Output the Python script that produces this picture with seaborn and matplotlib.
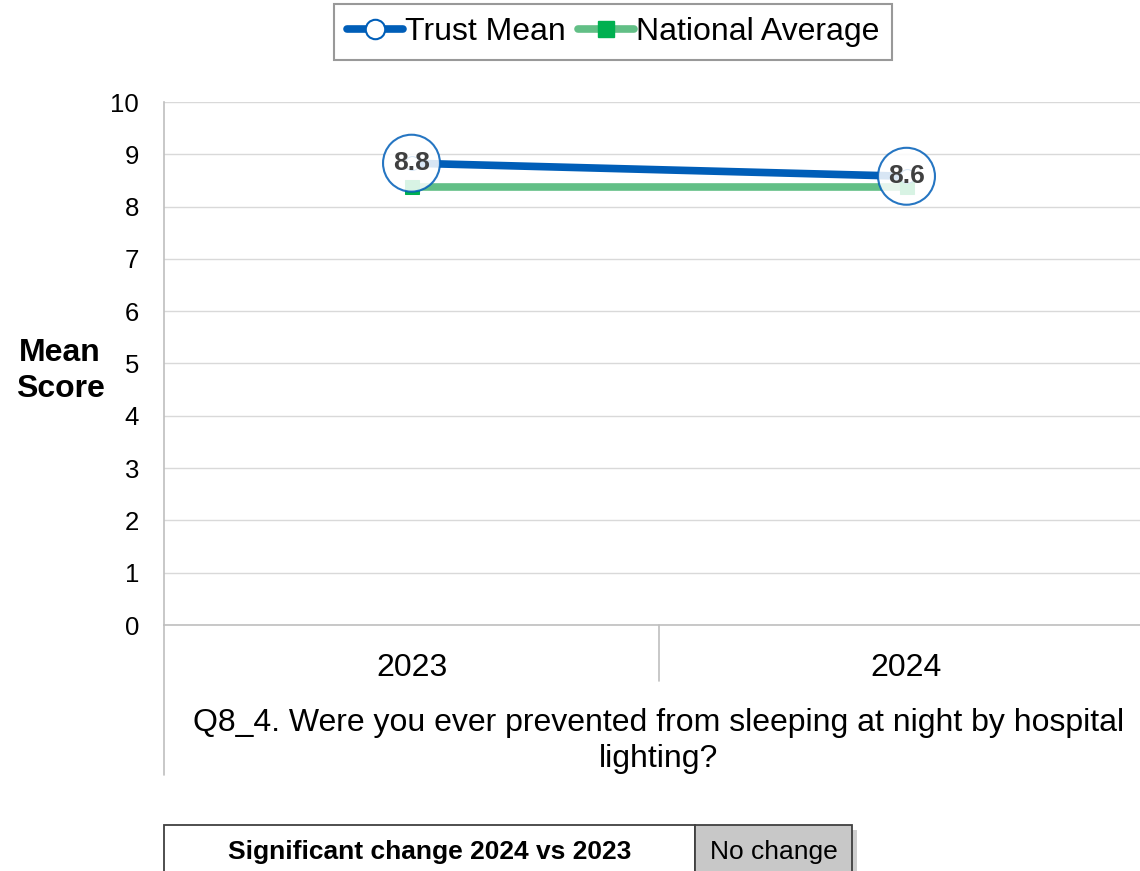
import matplotlib
matplotlib.use("Agg")
import matplotlib.pyplot as plt
import matplotlib.transforms as mtransforms
from matplotlib.lines import Line2D
from matplotlib.patches import Rectangle
import seaborn as sns
import pandas as pd

years = ["2023", "2024"]
trust_mean = [8.83, 8.58]
trust_labels = ["8.8", "8.6"]
national_avg = [8.37, 8.37]
question = "Q8_4. Were you ever prevented from sleeping at night by hospital\nlighting?"
table_label = "Significant change 2024 vs 2023"
table_value = "No change"

sns.set_theme(style="white")
plt.rcParams["font.family"] = ["Liberation Sans", "DejaVu Sans"]
plt.rcParams["text.color"] = "black"
plt.rcParams["axes.labelcolor"] = "black"

BLUE = "#005EB8"
GREEN_LINE = "#62BF86"
GREEN_MARK = "#00B050"

df_trust = pd.DataFrame({"Year": years, "Score": trust_mean})
df_nat = pd.DataFrame({"Year": years, "Score": national_avg})

fig = plt.figure(figsize=(11.4, 8.71), dpi=100)
ax = fig.add_axes([164/1140, (871-625)/871, 990/1140, 523/871])

sns.lineplot(data=df_trust, x="Year", y="Score", ax=ax, color=BLUE, lw=5.5,
             marker="o", markersize=10, markerfacecolor="white",
             markeredgecolor=BLUE, zorder=4, sort=False)
sns.lineplot(data=df_nat, x="Year", y="Score", ax=ax, color=GREEN_LINE, lw=5.5,
             marker="s", markersize=10, markerfacecolor=GREEN_MARK,
             markeredgecolor=GREEN_MARK, zorder=3, sort=False)

for i, (v, lab) in enumerate(zip(trust_mean, trust_labels)):
    ax.text(i, v, lab, ha="center", va="center", fontsize=19, fontweight="bold",
            color="#404040", zorder=6,
            bbox=dict(boxstyle="circle,pad=0.38", fc="white", ec=BLUE, lw=1.5, alpha=0.85))

ax.set_xlim(-0.5, 1.5)
ax.set_ylim(0, 10)
ax.set_yticks(range(0, 11))
ax.yaxis.grid(True, color="#D9D9D9", lw=1)
ax.xaxis.grid(False)
for s in ["top", "right"]:
    ax.spines[s].set_visible(False)
ax.spines["left"].set_color("#BFBFBF")
ax.spines["bottom"].set_color("#BFBFBF")
ax.spines["left"].set_linewidth(1.2)
ax.spines["bottom"].set_linewidth(1.2)
ax.tick_params(axis="y", labelsize=18.5, length=0, pad=18, colors="black")
ax.tick_params(axis="x", labelsize=23, length=0, pad=20, colors="black")
ax.set_xticks([0, 1])
ax.set_xticklabels(years)

# category separators and extended left spine
trans = mtransforms.blended_transform_factory(ax.transData, ax.transAxes)
ax.add_line(Line2D([-0.5, -0.5], [0, -0.287], transform=trans, color="#BFBFBF",
                   lw=1.2, clip_on=False))
ax.add_line(Line2D([0.5, 0.5], [0, -0.107], transform=trans, color="#BFBFBF",
                   lw=1.2, clip_on=False))

ax.set_xlabel(question, fontsize=23, labelpad=18, linespacing=1.28)
ax.set_ylabel("Mean\nScore", fontsize=23, fontweight="bold", rotation=0,
              ha="center", va="center", labelpad=0, linespacing=1.25)
ax.yaxis.set_label_coords(-0.105, 0.485)

handles = [
    Line2D([], [], color=BLUE, lw=5.5, marker="o", markersize=14,
           markerfacecolor="white", markeredgecolor=BLUE, markeredgewidth=1.5),
    Line2D([], [], color=GREEN_LINE, lw=5.5, marker="s", markersize=11,
           markerfacecolor=GREEN_MARK, markeredgecolor=GREEN_MARK),
]
leg = fig.legend(handles, ["Trust Mean", "National Average"], loc="center",
                 bbox_to_anchor=(613/1140, 1 - 32/871), ncol=2, fontsize=23,
                 frameon=True, fancybox=False, handlelength=1.75, handletextpad=0.05,
                 columnspacing=0.4, borderpad=0.42, borderaxespad=0)
leg.get_frame().set_edgecolor("#808080")
leg.get_frame().set_linewidth(1.5)

# significance table
def fx(px):
    return px / 1140
def fy(py):
    return 1 - py / 871

fig.add_artist(Rectangle((fx(169), fy(900)), fx(852 - 164), fy(830) - fy(900),
                         transform=fig.transFigure, fc="#A0A0A0", ec="none",
                         alpha=0.5, zorder=1))
fig.add_artist(Rectangle((fx(164), fy(900)), fx(695 - 164), fy(825) - fy(900),
                         transform=fig.transFigure, fc="white", ec="#404040",
                         lw=1.3, zorder=2))
fig.add_artist(Rectangle((fx(695), fy(900)), fx(852 - 695), fy(825) - fy(900),
                         transform=fig.transFigure, fc="#C8C8C8", ec="#404040",
                         lw=1.3, zorder=2))
fig.text(fx((164 + 695) / 2), fy(852), table_label, ha="center", va="center",
         fontsize=19, fontweight="bold", zorder=3)
fig.text(fx((695 + 852) / 2), fy(852), table_value, ha="center", va="center",
         fontsize=19, zorder=3)

fig.savefig("out.png", dpi=100)
